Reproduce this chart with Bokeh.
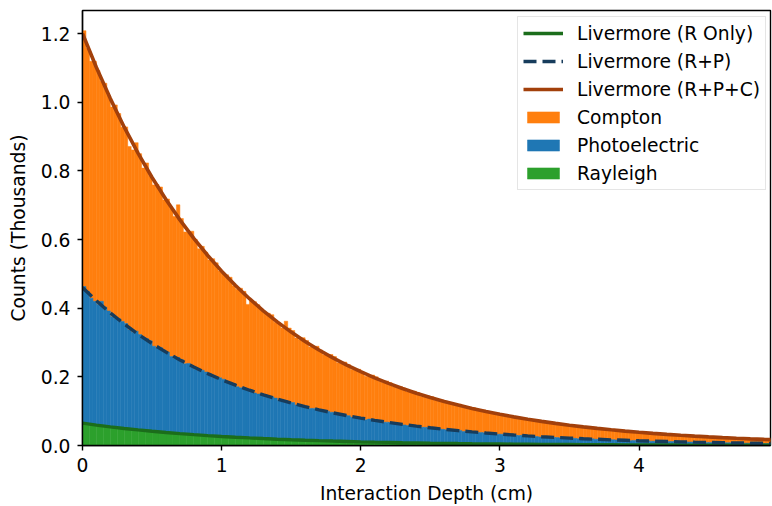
from bokeh.plotting import figure
from bokeh.models import Range1d, FixedTicker, PrintfTickFormatter, Legend, LegendItem, ColumnDataSource
from bokeh.embed import file_html
from bokeh.resources import INLINE

# ---------------- data (counts in thousands per bin) ----------------
bin_start = 0.0
fine_width = 0.025      # Compton / Photoelectric bins
coarse_width = 0.05     # Rayleigh bins

compton = [
    0.745, 0.708, 0.690, 0.699, 0.681, 0.641, 0.652, 0.627, 0.611, 0.622,
    0.598, 0.566, 0.573, 0.534, 0.531, 0.549, 0.527, 0.498, 0.512, 0.481,
    0.470, 0.476, 0.468, 0.437, 0.446, 0.431, 0.413, 0.445, 0.411, 0.384,
    0.380, 0.391, 0.378, 0.355, 0.361, 0.349, 0.331, 0.345, 0.337, 0.311,
    0.309, 0.314, 0.306, 0.285, 0.284, 0.290, 0.281, 0.248, 0.259, 0.266,
    0.260, 0.243, 0.238, 0.244, 0.239, 0.221, 0.226, 0.214, 0.232, 0.216,
    0.210, 0.195, 0.193, 0.198, 0.192, 0.179, 0.176, 0.183, 0.177, 0.165,
    0.162, 0.168, 0.163, 0.150, 0.149, 0.154, 0.149, 0.139, 0.136, 0.141,
    0.137, 0.127, 0.125, 0.130, 0.126, 0.117, 0.115, 0.120, 0.116, 0.107,
    0.106, 0.109, 0.107, 0.098, 0.097, 0.100, 0.098, 0.090, 0.089, 0.092,
    0.090, 0.083, 0.082, 0.085, 0.083, 0.076, 0.075, 0.078, 0.076, 0.070,
    0.069, 0.071, 0.070, 0.064, 0.063, 0.066, 0.064, 0.059, 0.058, 0.061,
    0.059, 0.054, 0.053, 0.056, 0.054, 0.050, 0.049, 0.051, 0.050, 0.045,
    0.045, 0.047, 0.046, 0.042, 0.041, 0.043, 0.042, 0.038, 0.038, 0.039,
    0.039, 0.035, 0.035, 0.037, 0.035, 0.032, 0.032, 0.034, 0.033, 0.030,
    0.030, 0.031, 0.030, 0.027, 0.027, 0.028, 0.028, 0.025, 0.025, 0.026,
    0.025, 0.023, 0.023, 0.024, 0.023, 0.021, 0.021, 0.022, 0.021, 0.019,
    0.019, 0.020, 0.020, 0.018, 0.018, 0.019, 0.018, 0.016, 0.016, 0.017,
    0.017, 0.015, 0.015, 0.016, 0.015, 0.014, 0.014, 0.014, 0.014, 0.013,
    0.013, 0.013, 0.013, 0.012, 0.012, 0.012, 0.011, 0.011]

photoelectric = [
    0.399, 0.385, 0.368, 0.359, 0.352, 0.361, 0.348, 0.337, 0.321, 0.316,
    0.319, 0.311, 0.306, 0.288, 0.283, 0.286, 0.279, 0.266, 0.268, 0.262,
    0.249, 0.244, 0.246, 0.239, 0.235, 0.222, 0.218, 0.220, 0.216, 0.204,
    0.207, 0.201, 0.191, 0.187, 0.189, 0.184, 0.181, 0.171, 0.168, 0.170,
    0.167, 0.157, 0.159, 0.155, 0.147, 0.144, 0.146, 0.141, 0.140, 0.131,
    0.129, 0.130, 0.128, 0.121, 0.123, 0.119, 0.113, 0.110, 0.113, 0.109,
    0.108, 0.101, 0.099, 0.100, 0.099, 0.093, 0.094, 0.092, 0.087, 0.085,
    0.087, 0.084, 0.083, 0.078, 0.077, 0.077, 0.076, 0.071, 0.072, 0.070,
    0.067, 0.065, 0.067, 0.065, 0.064, 0.060, 0.059, 0.059, 0.058, 0.055,
    0.056, 0.054, 0.052, 0.050, 0.051, 0.050, 0.049, 0.046, 0.046, 0.045,
    0.045, 0.042, 0.043, 0.041, 0.040, 0.039, 0.040, 0.038, 0.038, 0.035,
    0.035, 0.035, 0.035, 0.032, 0.033, 0.032, 0.031, 0.030, 0.031, 0.029,
    0.029, 0.027, 0.028, 0.027, 0.026, 0.025, 0.026, 0.024, 0.024, 0.023,
    0.023, 0.022, 0.023, 0.021, 0.021, 0.020, 0.020, 0.019, 0.020, 0.019,
    0.019, 0.018, 0.017, 0.017, 0.017, 0.016, 0.017, 0.016, 0.015, 0.015,
    0.015, 0.014, 0.015, 0.014, 0.013, 0.013, 0.013, 0.012, 0.013, 0.012,
    0.012, 0.011, 0.012, 0.011, 0.011, 0.010, 0.011, 0.010, 0.010, 0.010,
    0.010, 0.009, 0.009, 0.009, 0.009, 0.009, 0.009, 0.008, 0.008, 0.008,
    0.008, 0.007, 0.008, 0.007, 0.007, 0.007, 0.007, 0.007, 0.007, 0.006,
    0.006, 0.006, 0.006, 0.006, 0.006, 0.005, 0.005, 0.005]

rayleigh = [
    0.064, 0.061, 0.059, 0.055, 0.054, 0.050, 0.049, 0.047, 0.044, 0.043,
    0.040, 0.039, 0.037, 0.036, 0.034, 0.032, 0.031, 0.030, 0.028, 0.027,
    0.026, 0.025, 0.024, 0.022, 0.022, 0.021, 0.020, 0.019, 0.018, 0.017,
    0.017, 0.016, 0.015, 0.014, 0.014, 0.013, 0.013, 0.012, 0.011, 0.011,
    0.010, 0.010, 0.010, 0.009, 0.009, 0.008, 0.008, 0.008, 0.007, 0.007,
    0.007, 0.006, 0.006, 0.006, 0.006, 0.005, 0.005, 0.005, 0.005, 0.004,
    0.004, 0.004, 0.004, 0.004, 0.004, 0.003, 0.003, 0.003, 0.003, 0.003,
    0.003, 0.003, 0.0025, 0.0024, 0.0023, 0.0022, 0.0021, 0.0020, 0.0019, 0.0018,
    0.0017, 0.0016, 0.0015, 0.0015, 0.0014, 0.0013, 0.0013, 0.0012, 0.0012, 0.0011,
    0.0011, 0.0010, 0.0010, 0.0009, 0.0009, 0.0009, 0.0008, 0.0008, 0.0008]

# Livermore model curves sampled every 0.1 cm from 0 to 5 cm
curve_step = 0.1
livermore_rpc = [
    1.2000, 1.1011, 1.0104, 0.9271, 0.8507, 0.7806, 0.7163, 0.6572, 0.6031, 0.5534,
    0.5078, 0.4659, 0.4275, 0.3923, 0.3600, 0.3303, 0.3031, 0.2781, 0.2552, 0.2342,
    0.2149, 0.1972, 0.1809, 0.1660, 0.1523, 0.1398, 0.1283, 0.1177, 0.1080, 0.0991,
    0.0909, 0.0834, 0.0766, 0.0703, 0.0645, 0.0592, 0.0543, 0.0498, 0.0457, 0.0419,
    0.0385, 0.0353, 0.0324, 0.0297, 0.0273, 0.0250, 0.0230, 0.0211, 0.0193, 0.0177, 0.0163]
livermore_rp = [
    0.4600, 0.4215, 0.3861, 0.3538, 0.3241, 0.2970, 0.2721, 0.2493, 0.2284, 0.2093,
    0.1917, 0.1757, 0.1610, 0.1475, 0.1351, 0.1238, 0.1134, 0.1039, 0.0952, 0.0872,
    0.0799, 0.0732, 0.0671, 0.0615, 0.0563, 0.0516, 0.0473, 0.0433, 0.0397, 0.0364,
    0.0333, 0.0305, 0.0280, 0.0256, 0.0235, 0.0215, 0.0197, 0.0181, 0.0165, 0.0152,
    0.0139, 0.0127, 0.0117, 0.0107, 0.0098, 0.0090, 0.0082, 0.0075, 0.0069, 0.0063, 0.0058]
livermore_r = [
    0.0650, 0.0594, 0.0543, 0.0496, 0.0454, 0.0414, 0.0379, 0.0346, 0.0317, 0.0289,
    0.0264, 0.0242, 0.0221, 0.0202, 0.0184, 0.0168, 0.0154, 0.0141, 0.0129, 0.0118,
    0.0107, 0.0098, 0.0090, 0.0082, 0.0075, 0.0068, 0.0063, 0.0057, 0.0052, 0.0048,
    0.0044, 0.0040, 0.0037, 0.0033, 0.0030, 0.0028, 0.0025, 0.0023, 0.0021, 0.0019,
    0.0018, 0.0016, 0.0015, 0.0013, 0.0012, 0.0011, 0.0010, 0.0009, 0.0009, 0.0008, 0.0007]

x_ticks = [0, 1, 2, 3, 4]
y_ticks = [0.0, 0.2, 0.4, 0.6, 0.8, 1.0, 1.2]

# ---------------- derived (stacking) ----------------
ratio = int(round(coarse_width / fine_width))
nf = len(compton)
nc = len(rayleigh)
fine_x = [bin_start + fine_width * (j + 0.5) for j in range(nf)]
coarse_x = [bin_start + coarse_width * (i + 0.5) for i in range(nc)]
r_under = [rayleigh[j // ratio] for j in range(nf)]
p_top = [a + b for a, b in zip(r_under, photoelectric)]
c_top = [a + b for a, b in zip(p_top, compton)]
fine = ColumnDataSource(dict(x=fine_x, r_under=r_under, p_top=p_top, c_top=c_top))
coarse = ColumnDataSource(dict(x=coarse_x, zero=[0.0] * nc, r_top=list(rayleigh)))

depth = [round(curve_step * i, 2) for i in range(len(livermore_rpc))]
curves = ColumnDataSource(dict(x=depth, rpc=livermore_rpc, rp=livermore_rp, r=livermore_r))

FONT = "DejaVu Sans"
FS = "18.7px"
ORANGE, BLUE, GREEN = "#ff7f0e", "#1f77b4", "#2ca02c"

p = figure(width=772, height=506, output_backend="svg", toolbar_location=None,
           x_range=Range1d(0, 4.945), y_range=Range1d(0, 1.267),
           min_border_left=82, min_border_right=2, min_border_top=10, min_border_bottom=60)
p.background_fill_color = "white"
p.border_fill_color = "white"
p.outline_line_color = "black"
p.outline_line_width = 1.4
p.xgrid.visible = False
p.ygrid.visible = False

c_r = p.vbar(x="x", bottom="p_top", top="c_top", width=fine_width, source=fine,
             fill_color=ORANGE, line_color=ORANGE, line_width=0.5)
p_r = p.vbar(x="x", bottom="r_under", top="p_top", width=fine_width, source=fine,
             fill_color=BLUE, line_color=BLUE, line_width=0.5)
r_r = p.vbar(x="x", bottom="zero", top="r_top", width=coarse_width, source=coarse,
             fill_color=GREEN, line_color=GREEN, line_width=0.5)

l_r = p.line(x="x", y="r", source=curves, line_color="#1b6d1b", line_width=3.4)
l_rp = p.line(x="x", y="rp", source=curves, line_color="#173c5c", line_width=3.4,
              line_dash="13 6")
l_rpc = p.line(x="x", y="rpc", source=curves, line_color="#a2400b", line_width=3.6)

for ax in (p.xaxis[0], p.yaxis[0]):
    ax.axis_line_color = "black"
    ax.axis_line_width = 1.4
    ax.major_tick_line_color = "black"
    ax.major_tick_line_width = 1.4
    ax.major_tick_out = 5
    ax.major_tick_in = 0
    ax.minor_tick_line_color = None
    ax.major_label_text_font = FONT
    ax.major_label_text_font_size = FS
    ax.major_label_text_color = "black"
    ax.axis_label_text_font = FONT
    ax.axis_label_text_font_size = FS
    ax.axis_label_text_font_style = "normal"
    ax.axis_label_text_color = "black"

p.xaxis.ticker = FixedTicker(ticks=x_ticks)
p.yaxis.ticker = FixedTicker(ticks=y_ticks)
p.yaxis.formatter = PrintfTickFormatter(format="%.1f")
p.xaxis.formatter = PrintfTickFormatter(format="%d")
p.xaxis.axis_label = "Interaction Depth (cm)"
p.yaxis.axis_label = "Counts (Thousands)"
p.xaxis.major_label_standoff = 7
p.yaxis.major_label_standoff = 7
p.xaxis.axis_label_standoff = 8
p.yaxis.axis_label_standoff = 9

legend = Legend(items=[
    LegendItem(label="Livermore (R Only)", renderers=[l_r]),
    LegendItem(label="Livermore (R+P)", renderers=[l_rp]),
    LegendItem(label="Livermore (R+P+C)", renderers=[l_rpc]),
    LegendItem(label="Compton", renderers=[c_r]),
    LegendItem(label="Photoelectric", renderers=[p_r]),
    LegendItem(label="Rayleigh", renderers=[r_r]),
], location=(435, 255))
legend.label_text_font = FONT
legend.label_text_font_size = FS
legend.label_text_color = "black"
legend.glyph_width = 40
legend.glyph_height = 14
legend.label_height = 22
legend.label_standoff = 14
legend.spacing = 6
legend.padding = 5
legend.margin = 0
legend.border_line_color = "#cccccc"
legend.border_line_width = 1
legend.background_fill_alpha = 0.85
p.add_layout(legend, "center")

open("out.html", "w").write(file_html(p, INLINE))
